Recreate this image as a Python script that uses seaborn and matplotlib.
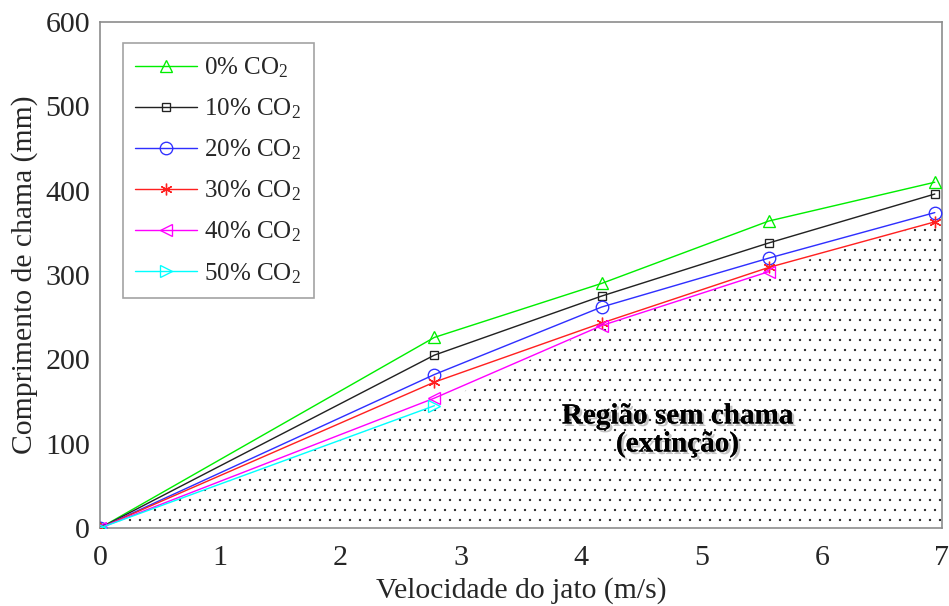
import matplotlib
matplotlib.use("Agg")
import matplotlib.pyplot as plt
import matplotlib.patheffects as pe
import numpy as np
import pandas as pd
import seaborn as sns

# Jet velocity (m/s) and flame length (mm) for each CO2 dilution level
velocity = [0.0, 2.78, 4.17, 5.56, 6.94]
flame_0 = [0, 226, 290, 364, 410]
flame_10 = [0, 205, 275, 338, 396]
flame_20 = [0, 182, 262, 320, 374]
flame_30 = [0, 173, 243, 309, 363]
flame_40 = [0, 154, 240, 304]
flame_50 = [0, 145]

labels = ["0% CO$_2$", "10% CO$_2$", "20% CO$_2$", "30% CO$_2$", "40% CO$_2$", "50% CO$_2$"]
series = [flame_0, flame_10, flame_20, flame_30, flame_40, flame_50]
colors = ["#00ee00", "#222222", "#2f2fff", "#ff2020", "#ff00ff", "#00ffff"]
markers = ["^", "s", "o", (6, 2, 0), "<", ">"]
msizes = [7.5, 4.5, 7.5, 7.0, 7.0, 7.0]

x_ticks = [0, 1, 2, 3, 4, 5, 6, 7]
y_ticks = [0, 100, 200, 300, 400, 500, 600]

sns.set_style("white")
plt.rcParams["font.family"] = ["Liberation Serif", "DejaVu Serif"]
plt.rcParams["mathtext.fontset"] = "custom"
plt.rcParams["mathtext.rm"] = "Liberation Serif"
plt.rcParams["mathtext.it"] = "Liberation Serif:italic"
plt.rcParams["hatch.linewidth"] = 0.15

frames = []
for lab, vals in zip(labels, series):
    frames.append(pd.DataFrame({"v": velocity[:len(vals)], "L": vals, "mix": lab}))
data = pd.concat(frames, ignore_index=True)

DPI = 120
fig = plt.figure(figsize=(949 / DPI, 606 / DPI), dpi=DPI)
ax = fig.add_axes([100 / 949, 1 - 528 / 606, 842 / 949, 506 / 606])

# Extinction region: below the lowest measured flame length at each velocity
lowest = [min(s[i] for s in series if len(s) > i) for i in range(len(velocity))]
ext_x = velocity + [7.0]
ext_y = lowest + [lowest[-1]]
ax.fill_between(ext_x, 0, ext_y, facecolor="none", edgecolor="#111111",
                hatch="..", linewidth=0, zorder=1)

handles = []
for lab, col, mk, ms in zip(labels, colors, markers, msizes):
    sub = data[data["mix"] == lab]
    sns.lineplot(data=sub, x="v", y="L", color=col, marker=mk, markersize=ms,
                 markerfacecolor="none", markeredgecolor=col, markeredgewidth=0.8,
                 linewidth=0.85, errorbar=None, legend=False, ax=ax, zorder=3)
    handles.append(ax.lines[-1])

ax.set_xlim(0, 7)
ax.set_ylim(0, 600)
ax.set_xticks(x_ticks)
ax.set_yticks(y_ticks)
ax.tick_params(direction="in", length=6, width=0.8, color="#888888",
               labelsize=18, labelcolor="#262626", pad=6)
ax.tick_params(axis="x", pad=10)
for sp in ax.spines.values():
    sp.set_color("#8c8c8c")
    sp.set_linewidth(1.0)
ax.set_xlabel("Velocidade do jato (m/s)", fontsize=17.8, color="#262626", labelpad=4)
ax.set_ylabel("Comprimento de chama (mm)", fontsize=17.8, color="#262626", labelpad=4)

leg = ax.legend(handles, labels, loc="upper left", bbox_to_anchor=(0.0273, 0.9585),
                borderaxespad=0, fontsize=15, handlelength=2.45, handletextpad=0.3,
                labelspacing=0.66, borderpad=0.5, frameon=True, fancybox=False)
leg.get_frame().set_edgecolor("#8c8c8c")
leg.get_frame().set_linewidth(1.0)
for t in leg.get_texts():
    t.set_color("#262626")

ax.text(4.8, 116, "Região sem chama\n(extinção)", ha="center", va="center",
        fontsize=17.5, fontweight="bold", color="black", linespacing=1.05, zorder=5,
        path_effects=[pe.withSimplePatchShadow(offset=(1.5, -1.5), shadow_rgbFace="#888888", alpha=0.5),
                      pe.Normal()])

fig.savefig("out.png", dpi=DPI)
